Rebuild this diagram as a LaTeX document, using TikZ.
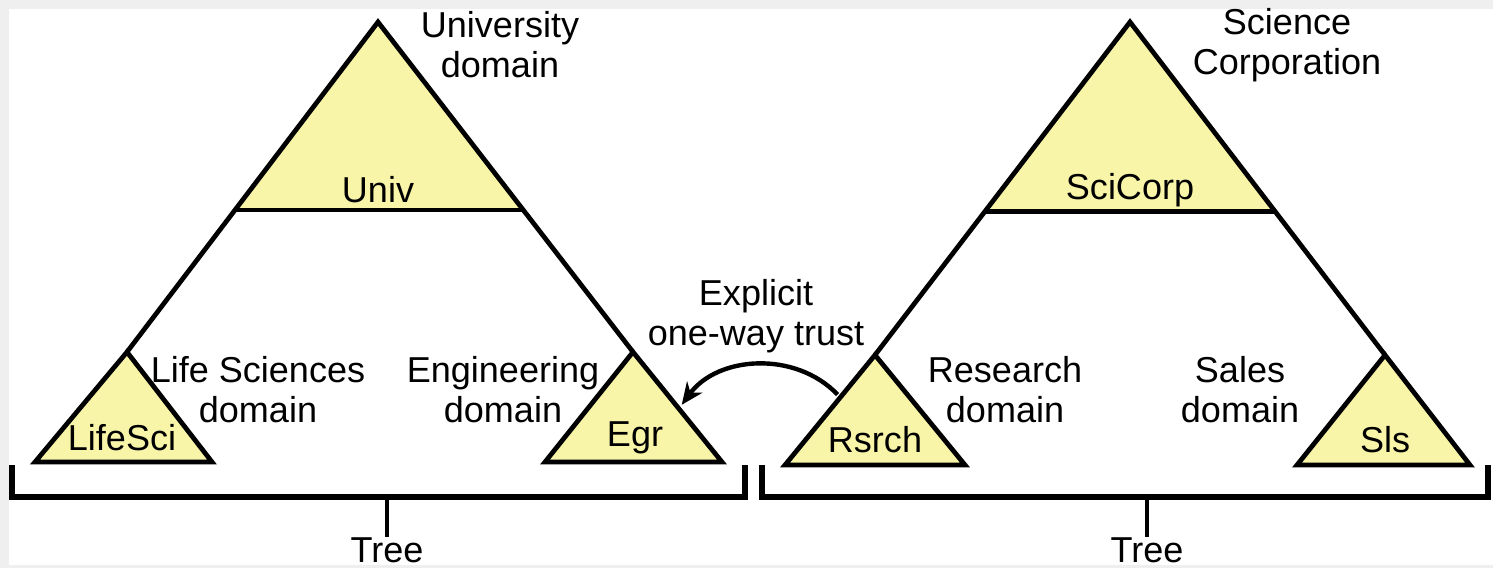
\documentclass[tikz,border=0pt]{standalone}
\usepackage{fontspec}
\setmainfont{Liberation Sans}
\usetikzlibrary{arrows.meta,calc}
\definecolor{paleyellow}{RGB}{248,244,168}
\definecolor{framegray}{RGB}{239,239,239}
\pgfdeclarelayer{backlayer}
\pgfdeclarelayer{edgelayer}
\pgfdeclarelayer{nodelayer}
\pgfsetlayers{backlayer,edgelayer,nodelayer,main}
\tikzstyle{none}=[inner sep=0pt]
\tikzstyle{caption}=[align=center,inner sep=0pt,font=\fontsize{20.5}{22.8}\selectfont]
\tikzstyle{side}=[draw=black,line width=2.7pt,line join=miter]
\tikzstyle{subdomain}=[fill=paleyellow,draw=black,line width=2.7pt,line join=miter]
\tikzstyle{bracket}=[line width=3.2pt]
\tikzstyle{stem}=[line width=1.8pt]
\tikzstyle{trust}=[-{Stealth[length=0.44cm,width=0.38cm]},line width=2.5pt]

\begin{document}
\begin{tikzpicture}[x=0.02cm,y=0.02cm]
	\useasboundingbox (0,0) rectangle (1493,568);
	\begin{pgfonlayer}{backlayer}
		\fill[framegray] (0,0) rectangle (1493,568);
		\fill[white] (9,3) rectangle (1493,559);
	\end{pgfonlayer}
	\begin{pgfonlayer}{nodelayer}
		% university tree
		\node [style=caption] (UnivDom) at (500, 523) {University\\domain};
		\node [style=caption] (Univ) at (378, 378) {Univ};
		\node [style=caption] (LifeDom) at (258, 178) {Life Sciences\\domain};
		\node [style=caption] (LifeSci) at (122, 130) {LifeSci};
		\node [style=caption] (EgrDom) at (503, 178) {Engineering\\domain};
		\node [style=caption] (Egr) at (635, 130) {Egr};
		\node [style=caption] (TrustLbl) at (756, 252) {Explicit\\one-way trust};
		% science corporation tree
		\node [style=caption] (SciDom) at (1287, 523) {Science\\Corporation};
		\node [style=caption] (SciCorp) at (1130, 378) {SciCorp};
		\node [style=caption] (RsrchDom) at (1005, 178) {Research\\domain};
		\node [style=caption] (Rsrch) at (875, 128) {Rsrch};
		\node [style=caption] (SlsDom) at (1240, 178) {Sales\\domain};
		\node [style=caption] (Sls) at (1385, 128) {Sls};
		% tree labels
		\node [style=caption] (TreeL) at (387, 18) {Tree};
		\node [style=caption] (TreeR) at (1147, 18) {Tree};
	\end{pgfonlayer}
	\begin{pgfonlayer}{edgelayer}
		\coordinate (Utop) at (378, 546);
		\coordinate (LSa) at (127, 216);
		\coordinate (LSl) at (35, 106);
		\coordinate (LSr) at (212, 106);
		\coordinate (Ea) at (633, 216);
		\coordinate (El) at (545, 106);
		\coordinate (Er) at (722, 106);
		\coordinate (Ul) at ($(Utop)!0.57!(LSa)$);
		\coordinate (Ur) at ($(Utop)!0.57!(Ea)$);
		\coordinate (Stop) at (1130, 546);
		\coordinate (Ra) at (875, 213);
		\coordinate (Rl) at (785, 103);
		\coordinate (Rr) at (965, 103);
		\coordinate (Sa) at (1385, 213);
		\coordinate (Sl) at (1297, 103);
		\coordinate (Sr) at (1470, 103);
		\coordinate (Cl) at ($(Stop)!0.57!(Ra)$);
		\coordinate (Cr) at ($(Stop)!0.57!(Sa)$);
		\coordinate (TrustFrom) at ($(Ra)!0.36!(Rl)+(-5,0)$);
		\coordinate (TrustTo) at ($(Ea)!0.48!(Er)+(6,0)$);
		\coordinate (StemL) at (387, 71);
		\coordinate (StemR) at (1147, 71);

		\fill [paleyellow] (Utop) -- (Ul) -- (Ur) -- cycle;
		\draw [style=side] (LSa) -- (Utop) -- (Ea);
		\draw [style=side] (Ul) -- (Ur);
		\draw [style=subdomain] (LSa) -- (LSl) -- (LSr) -- cycle;
		\draw [style=subdomain] (Ea) -- (El) -- (Er) -- cycle;

		\fill [paleyellow] (Stop) -- (Cl) -- (Cr) -- cycle;
		\draw [style=side] (Ra) -- (Stop) -- (Sa);
		\draw [style=side] (Cl) -- (Cr);
		\draw [style=subdomain] (Ra) -- (Rl) -- (Rr) -- cycle;
		\draw [style=subdomain] (Sa) -- (Sl) -- (Sr) -- cycle;

		\draw [style=trust, bend right=50] (TrustFrom) to (TrustTo);

		\draw [style=bracket] (12, 103) -- (12, 71) -- (745, 71) -- (745, 103);
		\draw [style=bracket] (762, 103) -- (762, 71) -- (1488, 71) -- (1488, 103);
		\draw [style=stem] (StemL) -- (TreeL.north);
		\draw [style=stem] (StemR) -- (TreeR.north);
	\end{pgfonlayer}
\end{tikzpicture}
\end{document}
